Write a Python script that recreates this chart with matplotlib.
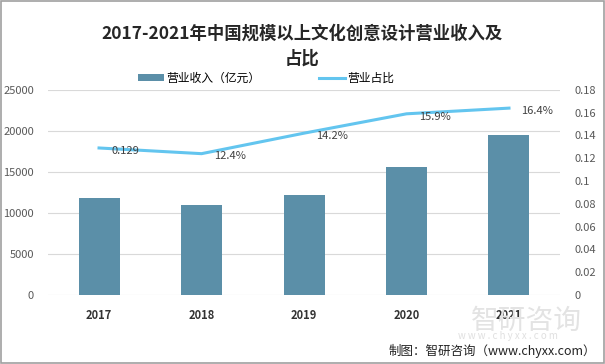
import matplotlib.pyplot as plt
import numpy as np

plt.rcParams['font.family'] = ['Noto Sans CJK SC', 'DejaVu Sans']

# 数据
years = ['2017', '2018', '2019', '2020', '2021']
revenue = [11830, 10980, 12200, 15620, 19550]
ratio = [0.129, 0.124, 0.142, 0.159, 0.164]
ratio_labels = ['0.129', '12.4%', '14.2%', '15.9%', '16.4%']

bar_color = '#5b8fa8'
line_color = '#63c5ef'
tick_color = '#595959'

fig = plt.figure(figsize=(6.05, 3.64), dpi=100)
ax = fig.add_axes([0.079, 0.19, 0.847, 0.563])
ax2 = ax.twinx()

x = np.arange(len(years))
ax.bar(x, revenue, width=0.4, color=bar_color, zorder=2, label='营业收入（亿元）')
ax2.plot(x, ratio, color=line_color, lw=2.2, zorder=3, label='营业占比')
for xi, v, lab in zip(x, ratio, ratio_labels):
    ax2.annotate(lab, (xi, v), xytext=(9, -2), textcoords='offset points',
                 ha='left', va='center', fontsize=8, color='#404040')

ax.set_xlim(-0.5, 4.5)
ax.set_ylim(0, 25000)
ax.set_yticks(np.arange(0, 25001, 5000))
ax2.set_ylim(0, 0.18)
ax2.set_yticks(np.arange(0, 0.181, 0.02))
ax2.set_yticklabels(['0', '0.02', '0.04', '0.06', '0.08', '0.1', '0.12', '0.14', '0.16', '0.18'])

ax.set_xticks(x)
ax.set_xticklabels(years, fontweight='bold', fontsize=9, color='#333333')
ax.grid(axis='y', color='#d9d9d9', lw=0.8, zorder=0)
ax.set_axisbelow(True)
for a in (ax, ax2):
    for s in a.spines.values():
        s.set_visible(False)
    a.tick_params(length=0, labelsize=8, colors=tick_color)
ax.tick_params(axis='x', colors='#333333', pad=10)
ax.tick_params(axis='y', pad=10)
ax2.tick_params(axis='y', pad=10)

fig.text(0.5, 0.908, '2017-2021年中国规模以上文化创意设计营业收入及', ha='center', va='center',
         fontsize=12.5, fontweight='bold', color='#262626')
fig.text(0.5, 0.838, '占比', ha='center', va='center', fontsize=12.5, fontweight='bold', color='#262626')

h1, l1 = ax.get_legend_handles_labels()
h2, l2 = ax2.get_legend_handles_labels()
fig.legend(h1 + h2, l1 + l2, loc='center', bbox_to_anchor=(0.44, 0.785), ncol=2, frameon=False,
           fontsize=8.5, columnspacing=5, handlelength=2.2, handleheight=0.5, handletextpad=0.2)

# 水印与来源
fig.text(0.87, 0.118, '智研咨询', ha='center', va='center', fontsize=20, color='#e3e3e3', zorder=0)
fig.text(0.84, 0.077, 'w w w . c h y x x . c o m', ha='center', va='center', fontsize=7, color='#e0e0e0')
fig.text(0.985, 0.035, '制图：智研咨询（www.chyxx.com）', ha='right', va='center', fontsize=9, color='#222222')

fig.patches.append(plt.Rectangle((0.001, 0.002), 0.997, 0.995, transform=fig.transFigure,
                                 fill=False, edgecolor='#a0a0a0', lw=1.2))

fig.savefig('out.png', dpi=100)
